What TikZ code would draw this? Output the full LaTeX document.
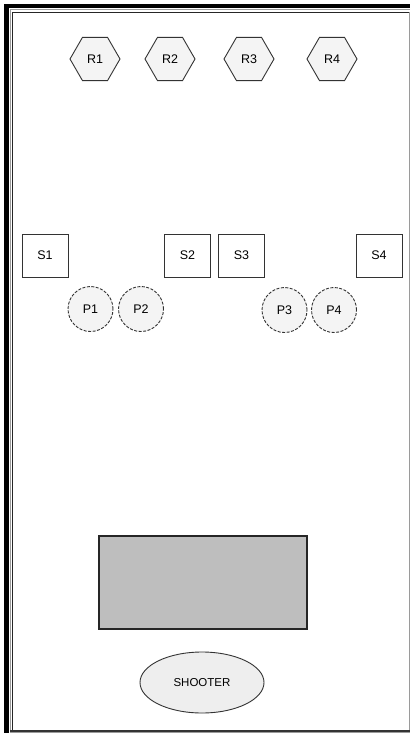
\documentclass[tikz,border=0pt]{standalone}
\usepackage{fontspec}
\setmainfont{Liberation Sans}
\usetikzlibrary{shapes.geometric}
\definecolor{hexfill}{HTML}{F4F4F4}
\definecolor{boxgray}{HTML}{BEBEBE}
\definecolor{ellfill}{HTML}{EEEEEE}
\definecolor{framegray}{HTML}{9A9A9A}
\tikzset{
  hexnode/.style={regular polygon, regular polygon sides=6, minimum size=50pt, inner sep=0pt, draw=black!80, line width=0.9pt, fill=hexfill, font=\fontsize{12.5}{14}\selectfont},
  seatbox/.style={rectangle, minimum width=46pt, minimum height=43pt, inner sep=0pt, draw=black!80, line width=0.9pt, fill=white, font=\fontsize{12.5}{14}\selectfont},
  pnode/.style={circle, minimum size=45pt, inner sep=0pt, draw=black!80, dashed, dash pattern=on 3pt off 1.5pt, line width=0.9pt, fill=hexfill, font=\fontsize{12.5}{14}\selectfont},
  shooternode/.style={ellipse, minimum width=124pt, minimum height=61pt, inner sep=0pt, draw=black!80, line width=0.9pt, fill=ellfill, font=\fontsize{11.5}{13}\selectfont},
}
\begin{document}
\begin{tikzpicture}[x=1pt,y=-1pt]
\useasboundingbox (0,0) rectangle (410,733);
\fill[white] (0,0) rectangle (410,733);
% frame
\fill[black] (4,4) rectangle (8.5,733);
\fill[black] (4,4) rectangle (410,8.5);
\draw[framegray, line width=1pt] (10,733) -- (10,10) -- (410,10);
\draw[black!85, line width=1.2pt] (12.5,730) -- (12.5,12.5) -- (410,12.5);
\draw[framegray, line width=1pt] (409,12.5) -- (409,730);
\draw[black!80, line width=2pt] (10,730.5) -- (410,730.5);
\draw[framegray, line width=1pt] (10,732.5) -- (410,732.5);
% hexagons
\node[hexnode] (r1) at (95,59) {R1};
\node[hexnode] (r2) at (170,59) {R2};
\node[hexnode] (r3) at (249,59) {R3};
\node[hexnode] (r4) at (332,59) {R4};
% squares
\node[seatbox] (s1) at (45,255.5) {S1};
\node[seatbox] (s2) at (187.5,255.5) {S2};
\node[seatbox] (s3) at (241.5,255.5) {S3};
\node[seatbox] (s4) at (379,255.5) {S4};
% circles
\node[pnode] (p1) at (90.5,309) {P1};
\node[pnode] (p2) at (141,309) {P2};
\node[pnode] (p3) at (284.5,310) {P3};
\node[pnode] (p4) at (334,310) {P4};
% gray box
\node[rectangle, minimum width=208pt, minimum height=93pt, inner sep=0pt, draw=black!85, line width=1.2pt, fill=boxgray] (table) at (203,582.5) {};
% shooter
\node[shooternode] (shooter) at (202,682.5) {SHOOTER};
\end{tikzpicture}
\end{document}
